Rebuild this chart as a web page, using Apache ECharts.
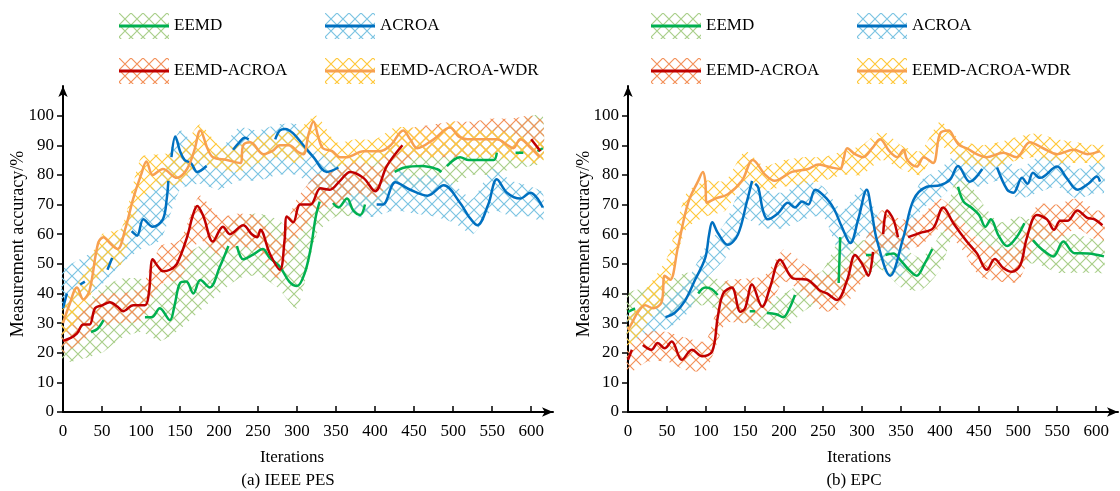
<!DOCTYPE html>
<html>
<head>
<meta charset="utf-8">
<script src="https://cdn.jsdelivr.net/npm/echarts@6/dist/echarts.min.js"></script>
<style>
  html, body { margin: 0; padding: 0; background: #fff; }
  #chart { width: 1120px; height: 491px; }
</style>
</head>
<body>
<div id="chart"></div>
<script>
// tick labels
const xTicks = [0, 50, 100, 150, 200, 250, 300, 350, 400, 450, 500, 550, 600];
const yTicks = [0, 10, 20, 30, 40, 50, 60, 70, 80, 90, 100];
const names = ['EEMD', 'ACROA', 'EEMD-ACROA', 'EEMD-ACROA-WDR'];

const G = null; // break in a line

// (a) IEEE PES  -- lines [iteration, accuracy]
const pesEemd = [[36,27],[44,28],[52,31],G,
  [105,32],[114,32],[124,35],[137,31],[143,36],[150,43.5],[158,44],[167,40],[176,44.5],[188,42],[201,49],[212,56],G,
  [223,56],[231,51.5],[243,53],[256,55],[265,52],[278,49],[290,44],[300,42.5],[310,47],[318,56],[324,66],[329,71],G,
  [346,70.5],[353,69],[364,72],[372,68],[381,66.5],[387,70],G,
  [425,81],[438,82.5],[460,83],[479,82],[485,81],G,
  [492,83],[509,86],[520,85],[535,85],[552,85],[556,87.5],G,
  [580,87.5],[590,87.5],G,[608,88],[615,89]];
const pesAcroa = [[0,35],[5,40],G,[22,43],[28,44],G,[57,48],[63,52],G,
  [88,61],[95,59.5],[103,65],[115,62.5],[128,65],[133,72],[135,78],G,
  [139,86],[144,93],[150,88],[156,85],[164,84],[172,81],[184,83],G,
  [218,88.5],[226,91],[233,92.5],[238,92],G,
  [272,92],[278,95],[285,95.5],[295,94],[308,90],[321,86],[338,81],[353,82.5],G,
  [402,70],[410,70],[426,77.5],[445,75],[467,73],[488,76.5],[509,70.5],[520,66],[531,63],[545,70],[556,78.5],[569,74],[586,72],[599,74],[615,69]];
const pesHybrid = [[0,24],[10,25],[18,26.5],[26,29.5],[34,29.5],[41,35],[50,36],[60,37],[70,35.5],[77,34],[90,36],[105,36],[110,40],
  [115,51.5],[122,49],[128,47.5],[137,48],[146,50],[159,59],[166,66],[172,69.5],[180,66],[192,57.5],[205,62.5],[214,60],[231,63],
  [242,60],[249,59],[253,61.5],[265,53.5],[278,48],[284,58],[287,66],[295,64],[304,70],[317,70],[330,75.5],[342,75],[355,78],
  [368,81],[385,79],[400,74.5],[415,83],[435,90],G,[600,92],[612,88]];
const pesWdr = [[0,30],[8,36],[18,42],[26,38],[34,41],[45,57],[52,59],[60,57],[70,55],[80,62],[90,72],[100,80],[107,84.5],
  [115,80],[128,82],[146,79],[159,82],[168,88],[176,95],[185,89],[192,86],[210,85],[227,84],[231,90],[240,91],[257,87],[268,88],
  [278,90],[290,90],[300,88],[308,87],[315,94],[321,98],[327,93],[333,89],[345,88],[355,86],[364,86],[385,88],[406,88],[420,90],
  [436,95],[445,92],[454,89],[475,92],[496,96],[507,93],[518,92],[535,92],[556,92],[570,90],[577,89],[586,92],[600,89],[611,86]];

// (b) EPC  -- lines
const epcEemd = [[0,33.8],[9,35],G,[90,40],[99,42],[107,41.5],[115,39.5],G,[156,34],[163,34],G,
  [178,33.4],[190,33],[199,32],[207,35],[214,39.5],G,[270,43.5],[272,59],G,[305,53],[313,53],G,
  [330,53],[340,53.5],[350,51],[360,48],[370,46],[380,50],[390,55],G,
  [423,76],[430,71],[440,69],[450,66.5],[458,62.5],[465,65],[475,59.5],[486,56],[498,59],[508,63.7],G,
  [519,58],[530,55],[545,52.5],[558,57.5],[572,53.6],[590,53.5],[610,52.5]];
const epcAcroa = [[48,32],[60,33.5],[73,37.5],[86,44.6],[99,52],[104,60],[108,64],[115,60.5],[128,56.4],[141,60],[152,70.6],[159,78],G,
  [163,77],[167,75.7],[173,68],[179,65],[192,67],[205,70.6],[214,69],[223,71],[231,70],[240,75],[256,71.6],[265,68],[274,62.5],
  [285,57],[295,65],[306,75],[312,68],[319,58],[336,46],[353,59],[366,71.6],[383,76],[400,76.5],[413,78.5],[423,83],[438,77.7],[454,82],G,
  [473,82.5],[486,75],[494,74],[505,79],[512,77],[519,80.7],[528,79],[550,82.8],[562,79],[576,75],[590,77],[601,79.5],[605,77.7]];
const epcHybrid = [[0,17.6],[5,21],G,[19,22.6],[30,21],[38,23.3],[47,21.5],[56,23.8],[69,17.6],[82,21],[95,18.8],[108,20.5],
  [115,32],[122,40],[133,42],[144,33.8],[150,35],[159,43],[172,35.5],[182,42],[195,51.4],[212,45],[229,44.7],[240,42.5],[246,41],
  [255,40],[268,37.8],[281,44.6],[291,53],[300,50],[308,46],[314,54],G,[327,60],[332,68],[340,65],[346,59],G,
  [359,59],[374,60.4],[391,62],[404,69],[417,63.7],[434,57.6],[447,53.6],[460,48],[470,51.6],[481,48.6],[492,47.3],[503,49.7],
  [511,58.6],[524,66.5],[537,65],[546,61.5],[554,64.5],[563,64.5],[576,68],[588,65.6],[598,65],[608,63]];
const epcWdr = [[0,27.7],[5,30],[12,33.4],[22,36],[32,35],[43,37],[47,46],[54,44.6],[64,55.7],[77,70.6],[90,78],[96,81],[99,78],
  [101,70.6],[112,72],[128,73.5],[146,78],[160,85],[176,80],[188,78],[210,81],[231,82],[244,83.5],[261,82.5],[272,82],[276,85],
  [281,89],[291,87],[301,86],[313,89],[323,92],[335,88],[345,86],[353,88.5],[358,85],[370,82.8],[379,86],[391,84],[400,94],
  [411,95],[419,92],[425,90],[434,89],[447,87],[460,86],[481,87.5],[498,86],[515,91],[532,89],[550,87],[571,88.5],[589,87],[605,88]];

// hatched ranges [iteration, low, high]
const pesEemdBand = [[0,17,33],[25,18,36],[50,20,42],[75,25,45],[100,27,45],[125,24,42],[150,28,52],[175,34,56],[200,40,60],[225,45,66],
  [250,46,67],[275,42,65],[300,35,60],[325,60,80],[350,66,84],[375,66,86],[400,68,88],[425,74,90],[450,76,90],[475,77,90],[500,77,92],
  [525,80,94],[550,80,96],[575,82,97],[600,83,100],[615,84,100]];
const pesAcroaBand = [[0,35,48],[25,38,52],[50,43,56],[75,50,62],[100,55,72],[125,58,80],[150,75,95],[175,77,88],[200,75,88],[225,78,96],
  [250,78,95],[275,80,97],[300,80,97],[325,75,88],[350,73,86],[375,66,76],[400,66,76],[425,68,82],[450,67,79],[475,66,80],[500,64,77],
  [525,60,72],[550,68,82],[575,66,78],[600,66,76],[615,64,74]];
const pesHybridBand = [[0,20,30],[25,24,34],[50,29,40],[75,30,40],[100,31,42],[125,43,56],[150,45,58],[175,58,73],[200,53,66],[225,56,67],
  [250,54,66],[275,45,58],[300,58,72],[325,68,80],[350,70,82],[375,74,85],[400,72,83],[425,80,93],[450,86,96],[475,86,97],[500,86,98],
  [525,87,98],[550,87,99],[575,87,99],[600,86,100],[615,85,98]];
const pesWdrBand = [[0,26,36],[25,34,46],[50,47,60],[75,50,62],[100,72,86],[125,76,87],[150,77,88],[175,84,97],[200,82,90],[225,81,90],
  [250,84,93],[275,86,94],[300,84,95],[325,88,100],[350,83,91],[375,84,92],[400,84,92],[425,88,96],[450,86,96],[475,86,95],[500,87,98],
  [525,86,95],[550,86,95],[575,85,94],[600,84,92],[615,84,91]];

const epcEemdBand = [[0,30,40],[25,32,42],[50,33,44],[75,35,47],[100,36,46],[125,33,44],[150,30,40],[175,28,38],[200,28,40],[225,34,44],
  [250,38,48],[275,42,60],[300,46,58],[325,48,58],[350,42,56],[375,41,52],[400,48,60],[425,65,82],[450,58,72],[475,52,64],[500,50,66],
  [525,50,64],[550,47,60],[575,47,60],[600,47,58],[610,47,58]];
const epcAcroaBand = [[0,24,34],[25,26,36],[50,28,38],[75,33,44],[100,45,56],[125,52,64],[150,65,78],[175,62,75],[200,62,74],[225,65,78],
  [250,66,76],[275,52,68],[300,60,76],[325,52,64],[350,46,60],[375,68,78],[400,72,82],[425,78,88],[450,76,86],[475,78,88],[500,72,82],
  [525,74,86],[550,76,86],[575,72,82],[600,74,84],[610,74,84]];
const epcHybridBand = [[0,13,22],[25,17,27],[50,17,27],[75,14,25],[100,14,24],[125,30,44],[150,30,45],[175,33,46],[200,44,55],[225,40,50],
  [250,34,46],[275,35,48],[300,44,56],[325,55,68],[350,55,65],[375,56,66],[400,62,72],[425,56,66],[450,46,58],[475,44,55],[500,44,56],
  [525,58,70],[550,58,70],[575,62,72],[600,58,68],[610,58,68]];
const epcWdrBand = [[0,22,32],[25,30,42],[50,42,52],[75,62,74],[100,66,78],[125,68,78],[150,78,88],[175,75,83],[200,76,85],[225,77,86],
  [250,78,86],[275,80,88],[300,80,90],[325,85,95],[350,82,90],[375,80,88],[400,90,98],[425,84,92],[450,83,90],[475,83,91],[500,85,93],
  [525,86,94],[550,84,92],[575,84,91],[600,84,90],[610,84,90]];

const FONT = '"Liberation Serif", "Times New Roman", serif';
const lineColors = ['#00b050', '#0070c0', '#c00000', '#f7a050'];
const hatchColors = ['#a9cf8a', '#7cc4e2', '#f3915a', '#ffc83a'];

function hatch(color) {
  const c = document.createElement('canvas');
  c.width = 12; c.height = 12;
  const g = c.getContext('2d');
  g.strokeStyle = color;
  g.lineWidth = 1.2;
  g.beginPath();
  g.moveTo(0, 0); g.lineTo(12, 12);
  g.moveTo(12, 0); g.lineTo(0, 12);
  g.stroke();
  return c;
}

function legendIcon(i) {
  const c = document.createElement('canvas');
  c.width = 50; c.height = 26;
  const g = c.getContext('2d');
  g.fillStyle = g.createPattern(hatch(hatchColors[i]), 'repeat');
  g.fillRect(0, 0, 50, 26);
  g.fillStyle = lineColors[i];
  g.fillRect(0, 11.5, 50, 3);
  return 'image://' + c.toDataURL();
}
const icons = names.map((n, i) => legendIcon(i));

function bandSeries(i, band, gi) {
  return {
    type: 'custom', name: names[i], xAxisIndex: gi, yAxisIndex: gi,
    data: band, encode: { x: 0, y: [1, 2] }, silent: true, z: 1,
    renderItem(params, api) {
      if (params.dataIndex !== 0) return null;
      const top = band.map(d => api.coord([d[0], d[2]]));
      const bot = band.map(d => api.coord([d[0], d[1]])).reverse();
      return {
        type: 'polygon',
        shape: { points: top.concat(bot), smooth: 0.2 },
        style: { fill: { image: hatch(hatchColors[i]), repeat: 'repeat' }, stroke: null }
      };
    }
  };
}

function lineSeries(i, pts, gi) {
  return {
    type: 'line', name: names[i], xAxisIndex: gi, yAxisIndex: gi,
    data: pts.map(p => p || ['-', '-']),
    showSymbol: false, smooth: 0.35, connectNulls: false, silent: true, z: 3,
    lineStyle: { color: lineColors[i], width: 2.5 }, itemStyle: { color: lineColors[i] }
  };
}

function xAx(gi) {
  return {
    type: 'value', gridIndex: gi, min: 0, max: 628,
    axisLine: { show: true, lineStyle: { color: '#000', width: 2 }, symbol: ['none', 'arrow'], symbolSize: [7, 11] },
    axisTick: { show: true, inside: true, length: 6, lineStyle: { color: '#000', width: 1.5 }, customValues: xTicks },
    axisLabel: { customValues: xTicks, margin: 11, fontFamily: FONT, fontSize: 17, color: '#000' },
    splitLine: { show: false }
  };
}
function yAx(gi) {
  return {
    type: 'value', gridIndex: gi, min: 0, max: 110,
    axisLine: { show: true, lineStyle: { color: '#000', width: 2 }, symbol: ['none', 'arrow'], symbolSize: [7, 11] },
    axisTick: { show: true, inside: false, length: 6, lineStyle: { color: '#000', width: 1.5 }, customValues: yTicks },
    axisLabel: { customValues: yTicks, margin: 9, fontFamily: FONT, fontSize: 17, color: '#000' },
    splitLine: { show: false }
  };
}

function legendCol(left, list) {
  return {
    left, top: 13, padding: 0, orient: 'vertical', itemWidth: 50, itemHeight: 26, itemGap: 19,
    selectedMode: false,
    textStyle: { fontFamily: FONT, fontSize: 17, color: '#000' },
    data: list.map(n => ({ name: n, icon: icons[names.indexOf(n)] }))
  };
}

function label(text, x, y, rot, size) {
  return {
    type: 'text', x, y, rotation: rot || 0,
    style: { text, font: (size || 17) + 'px ' + FONT, fill: '#000', align: 'center', verticalAlign: 'middle' }
  };
}

const chart = echarts.init(document.getElementById('chart'), null, { renderer: 'canvas' });
chart.setOption({
  animation: false,
  backgroundColor: '#fff',
  grid: [
    { left: 63, top: 86, width: 490, height: 326 },
    { left: 628, top: 86, width: 490, height: 326 }
  ],
  xAxis: [xAx(0), xAx(1)],
  yAxis: [yAx(0), yAx(1)],
  legend: [
    legendCol(119, ['EEMD', 'EEMD-ACROA']),
    legendCol(325, ['ACROA', 'EEMD-ACROA-WDR']),
    legendCol(651, ['EEMD', 'EEMD-ACROA']),
    legendCol(857, ['ACROA', 'EEMD-ACROA-WDR'])
  ],
  graphic: [
    label('Iterations', 292, 458),
    label('(a) IEEE PES', 288, 481),
    label('Iterations', 859, 458),
    label('(b) EPC', 854, 481),
    label('Measurement accuracy/%', 18, 244, Math.PI / 2, 18),
    label('Measurement accuracy/%', 584, 244, Math.PI / 2, 18)
  ],
  series: [
    bandSeries(0, pesEemdBand, 0), bandSeries(1, pesAcroaBand, 0), bandSeries(2, pesHybridBand, 0), bandSeries(3, pesWdrBand, 0),
    bandSeries(0, epcEemdBand, 1), bandSeries(1, epcAcroaBand, 1), bandSeries(2, epcHybridBand, 1), bandSeries(3, epcWdrBand, 1),
    lineSeries(0, pesEemd, 0), lineSeries(1, pesAcroa, 0), lineSeries(2, pesHybrid, 0), lineSeries(3, pesWdr, 0),
    lineSeries(0, epcEemd, 1), lineSeries(1, epcAcroa, 1), lineSeries(2, epcHybrid, 1), lineSeries(3, epcWdr, 1)
  ]
});
</script>
</body>
</html>
